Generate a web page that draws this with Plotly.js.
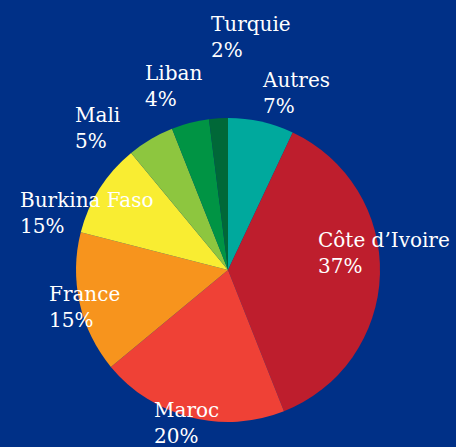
<!DOCTYPE html>
<html>
<head>
<meta charset="utf-8">
<script src="https://cdn.plot.ly/plotly-3.0.1.min.js"></script>
<style>html,body{margin:0;padding:0;background:#003087;}#chart{width:456px;height:447px;}</style>
</head>
<body>
<div id="chart"></div>
<script>
const categories = ["Autres", "Côte d’Ivoire", "Maroc", "France", "Burkina Faso", "Mali", "Liban", "Turquie"];
const values = [7, 37, 20, 15, 10, 5, 4, 2];
const percentLabels = ["7%", "37%", "20%", "15%", "15%", "5%", "4%", "2%"];
const colors = ["#00a99d", "#be1e2d", "#ef4136", "#f7941d", "#f9ed32", "#8dc63f", "#009444", "#006838"];
// label anchor positions (pixels, left/top of text box)
const labelPos = [
  [260, 66], [316, 226], [152, 396], [47, 280], [18, 186], [73, 101], [143, 59], [209, 10]
];
const W = 456, H = 447;
const annotations = categories.map((c, i) => ({
  text: c + "<br>" + percentLabels[i],
  xref: "paper", yref: "paper",
  x: labelPos[i][0] / W, y: 1 - labelPos[i][1] / H,
  xanchor: "left", yanchor: "top", align: "left",
  showarrow: false,
  font: {family: "DejaVu Serif", size: 20, color: "#ffffff"}
}));
const cx = 228, cy = 270, r = 152;
Plotly.newPlot("chart", [{
  type: "pie",
  labels: categories,
  values: values,
  sort: false,
  direction: "clockwise",
  rotation: 0,
  textinfo: "none",
  marker: {colors: colors, line: {width: 0}},
  domain: {x: [(cx - r) / W, (cx + r) / W], y: [1 - (cy + r) / H, 1 - (cy - r) / H]},
  showlegend: false
}], {
  width: W, height: H,
  margin: {l: 0, r: 0, t: 0, b: 0},
  paper_bgcolor: "#003087",
  plot_bgcolor: "#003087",
  showlegend: false,
  annotations: annotations
}, {staticPlot: true});
</script>
</body>
</html>
